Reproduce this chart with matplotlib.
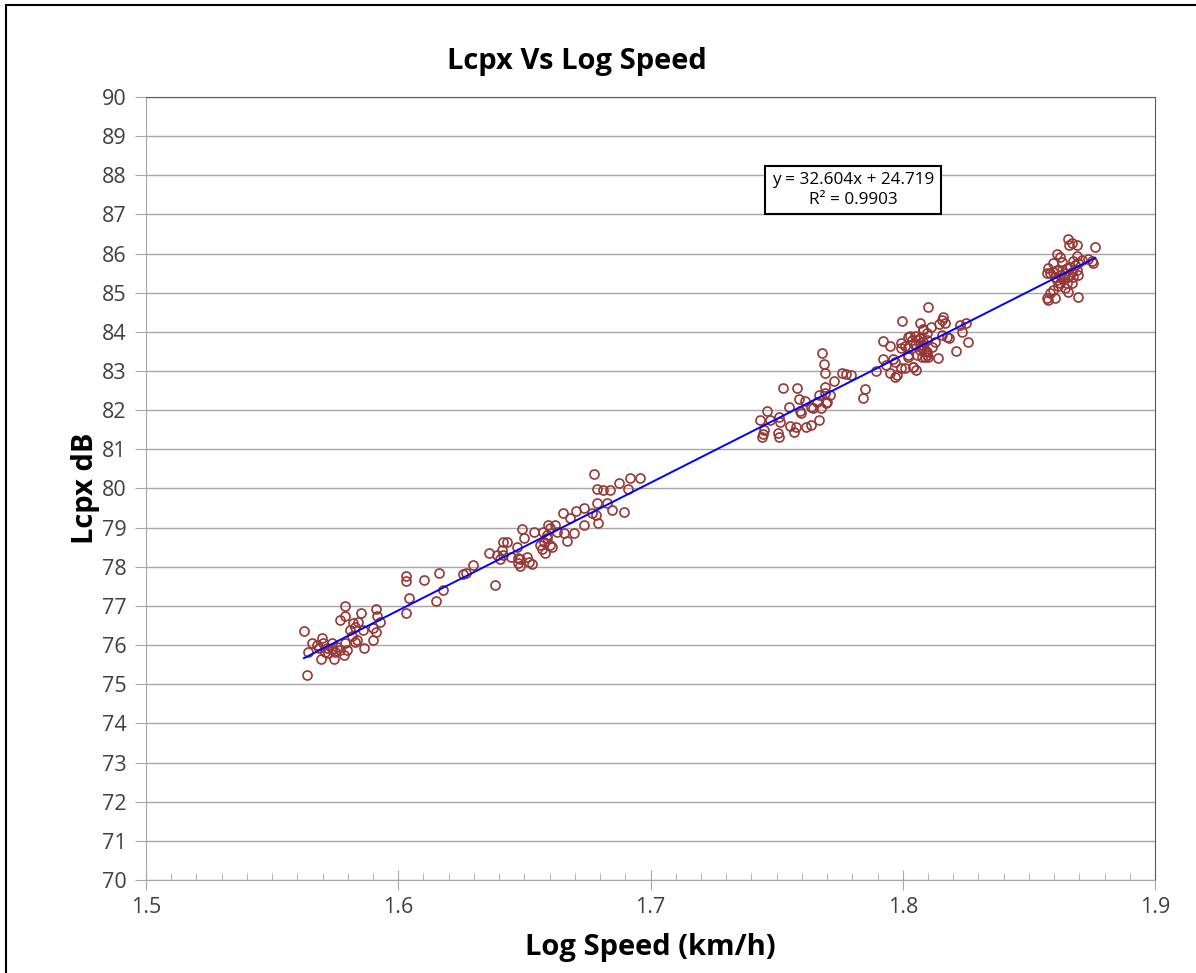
import matplotlib
matplotlib.use('Agg')
import matplotlib.pyplot as plt
import numpy as np

plt.rcParams['font.family'] = ['Open Sans', 'DejaVu Sans']

log_speed = [
    # 1.56 - 1.60
    1.5626, 1.5637, 1.5789, 1.5769, 1.5789, 1.5912, 1.5917, 1.5928, 1.5851, 1.5822,
    1.5829, 1.5842, 1.5809, 1.5901, 1.5912, 1.5861, 1.5898, 1.5864, 1.5835, 1.5815,
    1.5829, 1.5657, 1.5643, 1.5677, 1.5697, 1.5703, 1.5687, 1.5716, 1.5736, 1.5756,
    1.5769, 1.5789, 1.5796, 1.5783, 1.5749, 1.5723, 1.5693, 1.5745, 1.5710, 1.5736,
    # 1.60 - 1.65
    1.6029, 1.6029, 1.6102, 1.6163, 1.6041, 1.6029, 1.6150, 1.6179, 1.6258, 1.6269,
    1.6298, 1.6384, 1.6417, 1.6403, 1.6446, 1.6476, 1.6476,
    # 1.63 - 1.70
    1.6361, 1.6390, 1.6410, 1.6417, 1.6430, 1.6472, 1.6489, 1.6499, 1.6483, 1.6483,
    1.6509, 1.6519, 1.6529, 1.6538, 1.6572, 1.6562, 1.6568, 1.6582, 1.6578, 1.6588,
    1.6595, 1.6602, 1.6621, 1.6591, 1.6608, 1.6602, 1.6628, 1.6657, 1.6668, 1.6654,
    1.6681, 1.6696, 1.6705, 1.6736, 1.6736, 1.6767, 1.6784, 1.6793, 1.6787, 1.6826,
    1.6846, 1.6895, 1.6787, 1.6813, 1.6840, 1.6776, 1.6876, 1.6919, 1.6958, 1.6912,
    # 1.74 - 1.79
    1.7434, 1.7450, 1.7441, 1.7445, 1.7461, 1.7474, 1.7511, 1.7514, 1.7507, 1.7510,
    1.7524, 1.7551, 1.7554, 1.7570, 1.7578, 1.7580, 1.7587, 1.7591, 1.7596, 1.7613,
    1.7617, 1.7636, 1.7636, 1.7643, 1.7661, 1.7669, 1.7669, 1.7675, 1.7678, 1.7688,
    1.7692, 1.7692, 1.7692, 1.7696, 1.7701, 1.7712, 1.7728, 1.7758, 1.7775, 1.7794,
    1.7850, 1.7841,
    # 1.79 - 1.83
    1.7893, 1.7923, 1.7949, 1.7921, 1.7934, 1.7949, 1.7969, 1.7976, 1.7960, 1.7969,
    1.7995, 1.8008, 1.8041, 1.8052, 1.7995, 1.8008, 1.8021, 1.7999, 1.8029, 1.8049,
    1.8062, 1.8069, 1.8082, 1.8096, 1.8102, 1.8096, 1.8076, 1.8056, 1.8069, 1.8082,
    1.8092, 1.8102,
    1.8160, 1.8154, 1.8168, 1.8145, 1.8227, 1.8251, 1.8234, 1.8111, 1.8079, 1.8174,
    1.8184, 1.8154, 1.8022, 1.8035, 1.8068, 1.8095, 1.8128, 1.7995, 1.8048, 1.8082,
    1.8115, 1.8022, 1.8068, 1.8096, 1.8259, 1.8212, 1.8140, 1.8076, 1.8089, 1.8041,
    1.8021,
    # 1.86 - 1.88
    1.8657, 1.8670, 1.8660, 1.8689, 1.8762, 1.8613, 1.8624, 1.8630, 1.8689, 1.8676,
    1.8735, 1.8749, 1.8755, 1.8711, 1.8594, 1.8577, 1.8570, 1.8583, 1.8597, 1.8610,
    1.8630, 1.8650, 1.8663, 1.8683, 1.8696, 1.8689, 1.8670, 1.8643, 1.8624, 1.8604,
    1.8610, 1.8636, 1.8657, 1.8676, 1.8696, 1.8624, 1.8650, 1.8670, 1.8617, 1.8643,
    1.8597, 1.8657, 1.8583, 1.8570, 1.8577, 1.8604, 1.8696,
]
lcpx = [
    76.36, 75.24, 77.01, 76.64, 76.74, 76.91, 76.74, 76.60, 76.81, 76.56,
    76.47, 76.60, 76.39, 76.43, 76.34, 76.39, 76.13, 75.92, 76.13, 76.22,
    76.09, 76.05, 75.83, 76.00, 76.17, 76.05, 75.92, 75.92, 76.05, 75.96,
    75.87, 76.05, 75.87, 75.75, 75.83, 75.79, 75.64, 75.64, 75.83, 75.89,
    77.77, 77.65, 77.66, 77.83, 77.20, 76.81, 77.13, 77.41, 77.82, 77.83,
    78.05, 77.54, 78.30, 78.20, 78.24, 78.09, 78.22,
    78.36, 78.30, 78.43, 78.64, 78.64, 78.50, 78.96, 78.74, 78.19, 78.02,
    78.26, 78.13, 78.07, 78.90, 78.90, 78.56, 78.45, 78.35, 78.64, 78.73,
    79.07, 78.98, 79.07, 78.81, 78.50, 78.56, 78.90, 78.86, 78.67, 79.37,
    79.24, 78.86, 79.43, 79.49, 79.07, 79.37, 79.32, 79.13, 79.62, 79.64,
    79.44, 79.41, 79.98, 79.96, 79.96, 80.37, 80.13, 80.26, 80.28, 79.98,
    81.75, 81.49, 81.31, 81.39, 81.98, 81.75, 81.82, 81.71, 81.41, 81.32,
    82.56, 82.09, 81.60, 81.45, 81.56, 82.56, 82.28, 81.99, 81.94, 82.24,
    81.56, 81.62, 82.09, 82.05, 82.22, 82.39, 81.75, 82.05, 83.47, 83.18,
    82.96, 82.60, 82.43, 82.18, 82.22, 82.39, 82.75, 82.96, 82.92, 82.90,
    82.53, 82.30,
    83.01, 83.78, 83.65, 83.30, 83.15, 82.96, 82.86, 82.90, 83.30, 83.24,
    83.07, 83.07, 83.10, 83.03, 83.58, 83.64, 83.37, 84.29, 83.90, 83.90,
    83.79, 84.23, 84.07, 83.96, 84.64, 83.41, 83.58, 83.41, 83.66, 83.75,
    83.52, 83.37,
    84.37, 84.30, 84.22, 84.19, 84.18, 84.23, 84.01, 84.12, 84.05, 83.88,
    83.84, 83.92, 83.88, 83.79, 83.84, 83.79, 83.75, 83.71, 83.66, 83.66,
    83.62, 83.58, 83.54, 83.49, 83.75, 83.52, 83.33, 83.37, 83.37, 83.11,
    83.41,
    86.37, 86.28, 86.22, 86.22, 86.18, 85.99, 85.92, 85.79, 85.94, 85.82,
    85.86, 85.82, 85.75, 85.84, 85.75, 85.63, 85.50, 85.50, 85.54, 85.58,
    85.58, 85.63, 85.67, 85.71, 85.75, 85.58, 85.54, 85.50, 85.45, 85.41,
    85.33, 85.37, 85.41, 85.41, 85.45, 85.24, 85.24, 85.24, 85.16, 85.11,
    85.07, 85.03, 84.99, 84.86, 84.81, 84.86, 84.90,
]

# linear trendline shown on chart
slope = 32.604
intercept = 24.719
r2 = 0.9903

x = np.array(log_speed)
y = np.array(lcpx)

fig = plt.figure(figsize=(11.96, 9.73), dpi=100)
ax = fig.add_axes([146 / 1196, 93 / 973, 1009 / 1196, 783 / 973])

ax.plot(x, y, 'o', ls='none', ms=6.5, mfc='none', mec='#953735', mew=1.2, zorder=3)
xt = np.array([x.min(), x.max()])
ax.plot(xt, slope * xt + intercept, color='#0000FF', lw=1.4, zorder=4)

ax.set_xlim(1.5, 1.9)
ax.set_ylim(70, 90)
ax.set_xticks([1.5, 1.6, 1.7, 1.8, 1.9])
ax.set_xticks(np.arange(1.5, 1.9, 0.01), minor=True)
ax.set_yticks(range(70, 91))
ax.grid(axis='y', color='#A6A6A6', lw=1)
ax.set_axisbelow(True)

for s in ['left', 'bottom']:
    ax.spines[s].set_color('#A6A6A6')
for s in ['top', 'right']:
    ax.spines[s].set_color('#595959')
ax.tick_params(axis='y', direction='out', length=8, color='#A6A6A6', labelsize=15.5, labelcolor='#404040', pad=6)
ax.tick_params(axis='x', which='major', direction='inout', length=14, color='#A6A6A6', labelsize=15.5, labelcolor='#404040', pad=5)
ax.tick_params(axis='x', which='minor', direction='in', length=5, color='#A6A6A6')

fig.text(577 / 1196, 1 - 62 / 973, 'Lcpx Vs Log Speed', fontsize=21, fontweight='bold',
         ha='center', va='center')
ax.set_xlabel('Log Speed (km/h)', fontsize=21, fontweight='bold', labelpad=11)
ax.set_ylabel('Lcpx dB', fontsize=21, fontweight='bold')
ax.yaxis.set_label_coords(-0.046, 0.5)

ax.text(1.7803, 87.62, 'y = %.3fx + %.3f\nR² = %.4f' % (slope, intercept, r2),
        ha='center', va='center', fontsize=12.3, linespacing=1.3,
        bbox=dict(boxstyle='square,pad=0.38', fc='white', ec='black', lw=1.5))

# outer border of the chart area
fig.patches.append(plt.Rectangle((6 / 1196, -0.05), 1.2, 1 - 5 / 973 + 0.05,
                                 transform=fig.transFigure, fill=False, ec='black', lw=1.5))

fig.savefig('out.png', dpi=100)
